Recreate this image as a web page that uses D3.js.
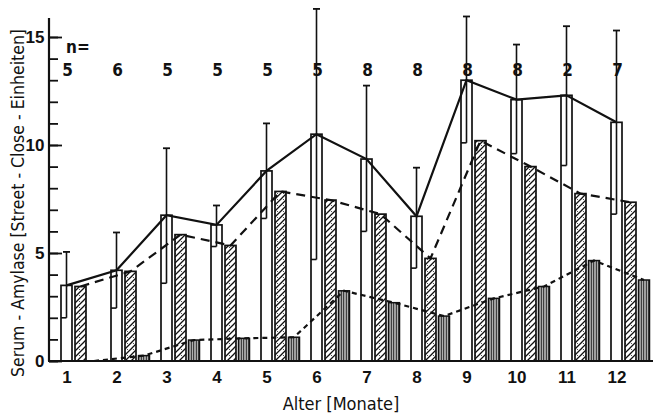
<!DOCTYPE html>
<html>
<head>
<meta charset="utf-8">
<script src="https://cdn.jsdelivr.net/npm/d3@7"></script>
<style>
  body { margin: 0; background: #fff; }
  svg { display: block; }
  text { font-family: "Liberation Sans Narrow", "DejaVu Sans Condensed", sans-serif; fill: #111; font-weight: bold; }
</style>
</head>
<body>
<script>
// data
let months = [1, 2, 3, 4, 5, 6, 7, 8, 9, 10, 11, 12];
let nLabels = ["5", "6", "5", "5", "5", "5", "8", "8", "8", "8", "2", "7"];
let whiteMean = [3.5, 4.2, 6.75, 6.3, 8.8, 10.5, 9.35, 6.7, 13.0, 12.1, 12.3, 11.05];
let whiteUpper = [5.05, 5.95, 9.85, 7.2, 11.0, 16.3, 12.75, 8.95, 15.95, 14.65, 15.5, 15.3];
let whiteLower = [2.0, 2.45, 3.6, 5.3, 6.6, 4.7, 6.0, 4.3, 10.1, 9.6, 9.05, 6.8];
let diagValues = [3.45, 4.15, 5.85, 5.35, 7.85, 7.45, 6.8, 4.75, 10.2, 9.0, 7.75, 7.35];
let vertValues = [0, 0.25, 0.97, 1.05, 1.1, 3.25, 2.7, 2.08, 2.9, 3.45, 4.65, 3.75];
let yMajor = [0, 5, 10, 15];
let yMinor = d3.range(0, 16);

let svgWidth = 656, svgHeight = 414;
let barW = 11;

let svg = d3.select("body").append("svg")
    .attr("width", svgWidth)
    .attr("height", svgHeight);

let x = d3.scaleLinear().domain([1, 12]).range([66.5, 616.5]);
let y = d3.scaleLinear().domain([0, 15]).range([361, 37]);

// hatch patterns
let defs = svg.append("defs");
let diag = defs.append("pattern")
    .attr("id", "diag")
    .attr("patternUnits", "userSpaceOnUse")
    .attr("width", 6).attr("height", 6);
diag.append("rect").attr("width", 6).attr("height", 6).attr("fill", "#fff");
diag.append("path")
    .attr("d", "M-1,1 L1,-1 M0,6 L6,0 M5,7 L7,5")
    .attr("stroke", "#111").attr("stroke-width", 1.3);
diag.append("circle").attr("cx", 1.5).attr("cy", 1.5).attr("r", 0.6).attr("fill", "#333");

let vert = defs.append("pattern")
    .attr("id", "vert")
    .attr("patternUnits", "userSpaceOnUse")
    .attr("width", 2.5).attr("height", 4);
vert.append("rect").attr("width", 2.5).attr("height", 4).attr("fill", "#fff");
vert.append("line")
    .attr("x1", 1.25).attr("x2", 1.25).attr("y1", 0).attr("y2", 4)
    .attr("stroke", "#111").attr("stroke-width", 1.4);

// bars
let g = svg.append("g");

g.selectAll(".vbar").data(months).enter().append("rect")
    .attr("x", (m) => x(m) + 22)
    .attr("y", (m, i) => y(vertValues[i]))
    .attr("width", barW)
    .attr("height", (m, i) => y(0) - y(vertValues[i]))
    .attr("fill", "url(#vert)")
    .attr("stroke", "#111").attr("stroke-width", 1.5);

g.selectAll(".dbar").data(months).enter().append("rect")
    .attr("x", (m) => x(m) + 8.5)
    .attr("y", (m, i) => y(diagValues[i]))
    .attr("width", barW)
    .attr("height", (m, i) => y(0) - y(diagValues[i]))
    .attr("fill", "url(#diag)")
    .attr("stroke", "#111").attr("stroke-width", 1.7);

g.selectAll(".wbar").data(months).enter().append("rect")
    .attr("x", (m) => x(m) - barW / 2)
    .attr("y", (m, i) => y(whiteMean[i]))
    .attr("width", barW)
    .attr("height", (m, i) => y(0) - y(whiteMean[i]))
    .attr("fill", "#fff")
    .attr("stroke", "#111").attr("stroke-width", 1.7);

// error bars
months.forEach((m, i) => {
    let cx = x(m);
    g.append("line")
        .attr("x1", cx).attr("x2", cx)
        .attr("y1", y(whiteLower[i])).attr("y2", y(whiteUpper[i]))
        .attr("stroke", "#111").attr("stroke-width", 1.6);
    g.append("line")
        .attr("x1", cx - 3.5).attr("x2", cx + 3.5)
        .attr("y1", y(whiteUpper[i])).attr("y2", y(whiteUpper[i]))
        .attr("stroke", "#111").attr("stroke-width", 1.8);
    g.append("line")
        .attr("x1", cx - barW / 2).attr("x2", cx)
        .attr("y1", y(whiteLower[i])).attr("y2", y(whiteLower[i]))
        .attr("stroke", "#111").attr("stroke-width", 1.6);
});

// connecting lines
let lineWhite = d3.line().x((m) => x(m)).y((m, i) => y(whiteMean[i]));
let lineDiag = d3.line().x((m) => x(m) + 14).y((m, i) => y(diagValues[i]));
let lineVert = d3.line().x((m) => x(m) + 27.5).y((m, i) => y(vertValues[i]));

svg.append("path").datum(months).attr("d", lineWhite)
    .attr("fill", "none").attr("stroke", "#111").attr("stroke-width", 2.2);
svg.append("path").datum(months).attr("d", lineDiag)
    .attr("fill", "none").attr("stroke", "#111").attr("stroke-width", 2.2)
    .attr("stroke-dasharray", "9,6");
svg.append("path").datum(months).attr("d", lineVert)
    .attr("fill", "none").attr("stroke", "#111").attr("stroke-width", 2.2)
    .attr("stroke-dasharray", "5,4");

// axes
let yMinorAxis = d3.axisLeft(y).tickValues(yMinor).tickSize(-9).tickFormat("");
let yMajorAxis = d3.axisLeft(y).tickValues(yMajor).tickSize(-13).tickPadding(4);

svg.append("g").attr("transform", "translate(49,0)").call(yMinorAxis)
    .call((a) => a.select(".domain").remove())
    .selectAll("line").attr("stroke", "#111").attr("stroke-width", 1.8);
let ya = svg.append("g").attr("transform", "translate(49,0)").call(yMajorAxis);
ya.select(".domain").remove();
ya.selectAll("line").attr("stroke", "#111").attr("stroke-width", 1.8);
ya.selectAll("text")
    .style("font-family", "'Liberation Sans Narrow', sans-serif")
    .style("font-weight", "bold")
    .style("font-size", "17px").attr("fill", "#111").attr("dx", "-0.5");

svg.append("line")
    .attr("x1", 49).attr("x2", 49).attr("y1", 18).attr("y2", y(0))
    .attr("stroke", "#111").attr("stroke-width", 2.2);

let xAxis = d3.axisBottom(x).tickValues(months).tickSize(0).tickPadding(10);
let xa = svg.append("g").attr("transform", "translate(0," + y(0) + ")").call(xAxis);
xa.select(".domain").remove();
xa.selectAll("text")
    .style("font-family", "'Liberation Sans Narrow', sans-serif")
    .style("font-weight", "bold")
    .style("font-size", "17px").attr("fill", "#111");
svg.append("line")
    .attr("x1", 48).attr("x2", 653).attr("y1", y(0)).attr("y2", y(0))
    .attr("stroke", "#111").attr("stroke-width", 2.2);

// n labels
svg.append("text").attr("x", 66).attr("y", 53)
    .style("font-size", "17px").text("n=");
svg.selectAll(".nlab").data(months).enter().append("text")
    .attr("x", (m) => x(m) + 1)
    .attr("y", 76)
    .attr("text-anchor", "middle")
    .style("font-size", "17px")
    .text((m, i) => nLabels[i]);

// axis titles
svg.append("text")
    .attr("transform", "translate(24,203) rotate(-90)")
    .attr("text-anchor", "middle")
    .style("font-size", "17.5px")
    .style("font-weight", "normal")
    .text("Serum - Amylase [Street - Close - Einheiten]");
svg.append("text")
    .attr("x", 341).attr("y", 410)
    .attr("text-anchor", "middle")
    .style("font-size", "18px")
    .style("font-weight", "normal")
    .text("Alter [Monate]");
</script>
</body>
</html>
